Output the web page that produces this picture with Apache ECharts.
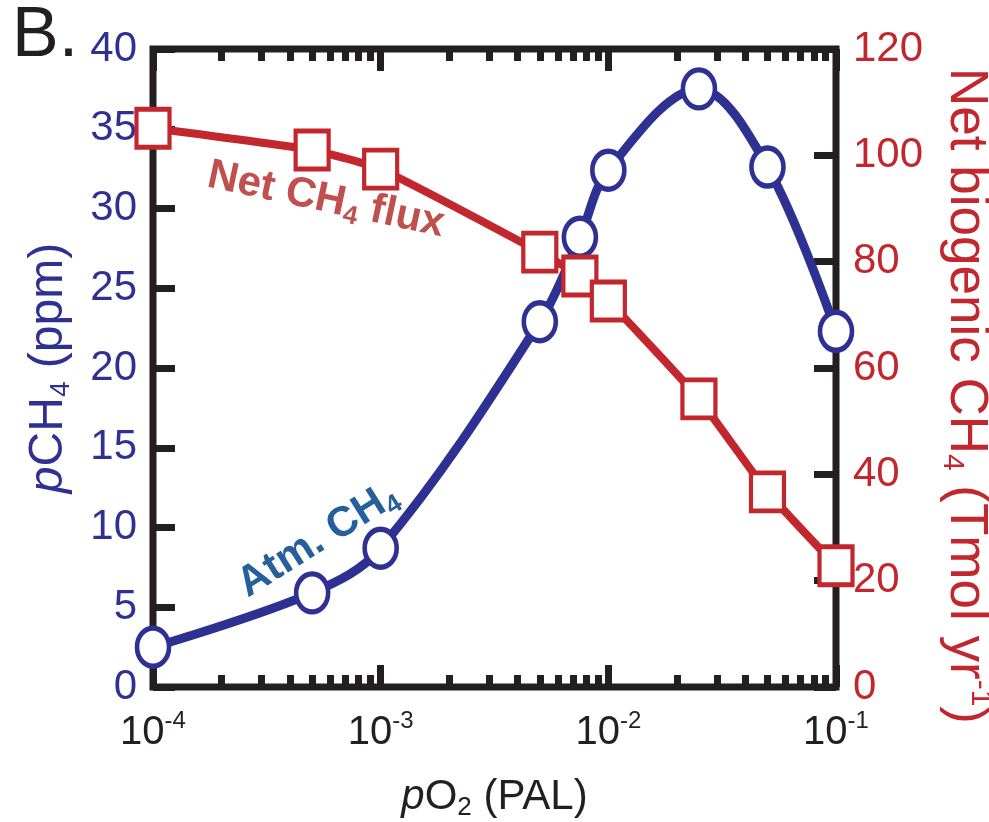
<!DOCTYPE html>
<html><head><meta charset="utf-8">
<script src="https://cdn.jsdelivr.net/npm/echarts@6/dist/echarts.min.js"></script>
<style>html,body{margin:0;padding:0;background:#fff}#c{width:989px;height:822px}</style>
</head><body><div id="c"></div>
<script>
// ---- data ----
const pO2 = [1e-4, 5e-4, 1e-3, 5e-3, 7.5e-3, 1e-2, 2.5e-2, 5e-2, 1e-1];
const pCH4 = [2.5, 5.9, 8.7, 22.9, 28.2, 32.4, 37.5, 32.6, 22.3];
const netFlux = [105.1, 101.0, 97.4, 81.8, 77.3, 72.6, 54.2, 36.7, 22.8];
const xTickValues = [1e-4, 1e-3, 1e-2, 1e-1];
const xTickExponents = ['-4', '-3', '-2', '-1'];
const minorMultipliers = [2, 3, 4, 5, 6, 7, 8, 9];
const decades = [-4, -3, -2];

const FONT = "'Liberation Sans', Arial, sans-serif";
const BLUE = '#2e3192', RED = '#c1272d', BLACK = '#231f20';

const minorTicks = [];
decades.forEach(d => minorMultipliers.forEach(m => minorTicks.push(d + Math.log10(m))));

const tickStyle = { color: BLACK, width: 7 };
function xLabel(v) {
  let i = xTickValues.findIndex(t => Math.abs(Math.log10(t) - Math.log10(v)) < 1e-6);
  if (i < 0) return '';
  return '{b|10}{s|' + xTickExponents[i] + '}';
}

const chart = echarts.init(document.getElementById('c'));
chart.setOption({
  backgroundColor: '#fff',
  animation: false,
  grid: { left: 153, right: 153, top: 49, bottom: 135, outerBoundsMode: 'none', containLabel: false,
          show: true, borderColor: BLACK, borderWidth: 7, backgroundColor: 'transparent' },
  xAxis: [
    { type: 'log', logBase: 10, min: 1e-4, max: 1e-1, position: 'bottom',
      axisLine: { show: false }, splitLine: { show: false },
      axisTick: { inside: true, length: 22, lineStyle: tickStyle },
      axisLabel: { margin: 22, formatter: xLabel, rich: {
        b: { fontFamily: FONT, fontSize: 40, lineHeight: 44, verticalAlign: 'bottom', color: BLACK },
        s: { fontFamily: FONT, fontSize: 24, lineHeight: 24, verticalAlign: 'top', color: BLACK } } },
      name: '{i|p}{n|O}{sub|2}{n| (PAL)}', nameLocation: 'middle', nameGap: 86,
      nameTextStyle: { rich: {
        i: { fontFamily: FONT, fontSize: 42, fontStyle: 'italic', lineHeight: 48, verticalAlign: 'middle', color: BLACK },
        n: { fontFamily: FONT, fontSize: 42, lineHeight: 48, verticalAlign: 'middle', color: BLACK },
        sub: { fontFamily: FONT, fontSize: 26, lineHeight: 26, verticalAlign: 'bottom', color: BLACK } } } },
    { type: 'value', min: -4, max: -1, position: 'bottom',
      axisLine: { show: false }, splitLine: { show: false }, axisLabel: { show: false },
      axisTick: { inside: true, length: 12, customValues: minorTicks, lineStyle: tickStyle } },
    { type: 'log', logBase: 10, min: 1e-4, max: 1e-1, position: 'top',
      axisLine: { show: false }, splitLine: { show: false }, axisLabel: { show: false },
      axisTick: { inside: true, length: 22, lineStyle: tickStyle } },
    { type: 'value', min: -4, max: -1, position: 'top',
      axisLine: { show: false }, splitLine: { show: false }, axisLabel: { show: false },
      axisTick: { inside: true, length: 12, customValues: minorTicks, lineStyle: tickStyle } }
  ],
  yAxis: [
    { type: 'value', min: 0, max: 40, interval: 5, position: 'left',
      axisLine: { show: false }, splitLine: { show: false },
      axisTick: { inside: true, length: 22, lineStyle: tickStyle },
      axisLabel: { margin: 16, fontFamily: FONT, fontSize: 42, color: BLUE },
      name: '{i|p}{n|CH}{sub|4}{n| (ppm)}', nameLocation: 'middle', nameRotate: 90, nameGap: 78,
      nameTextStyle: { rich: {
        i: { fontFamily: FONT, fontSize: 48, fontStyle: 'italic', lineHeight: 52, verticalAlign: 'middle', color: BLUE },
        n: { fontFamily: FONT, fontSize: 48, lineHeight: 52, verticalAlign: 'middle', color: BLUE },
        sub: { fontFamily: FONT, fontSize: 28, lineHeight: 28, verticalAlign: 'bottom', color: BLUE } } } },
    { type: 'value', min: 0, max: 120, interval: 20, position: 'right',
      axisLine: { show: false }, splitLine: { show: false },
      axisTick: { inside: true, length: 22, lineStyle: tickStyle },
      axisLabel: { margin: 17, fontFamily: FONT, fontSize: 42, color: RED },
      name: '{n|Net biogenic CH}{sub|4}{n| (Tmol yr}{sup|-1}{n|)}', nameLocation: 'middle', nameRotate: -90, nameGap: 101,
      nameTextStyle: { padding: [0, 0, 0, 56], rich: {
        n: { fontFamily: FONT, fontSize: 53, lineHeight: 58, verticalAlign: 'middle', color: RED },
        sub: { fontFamily: FONT, fontSize: 30, lineHeight: 30, verticalAlign: 'bottom', color: RED },
        sup: { fontFamily: FONT, fontSize: 30, lineHeight: 30, verticalAlign: 'top', color: RED } } } }
  ],
  series: [
    { name: 'Atm. CH4', type: 'line', xAxisIndex: 0, yAxisIndex: 0, smooth: 0.35, z: 3,
      data: pO2.map((x, i) => [x, pCH4[i]]),
      lineStyle: { color: BLUE, width: 9 },
      symbol: 'circle', symbolSize: [32, 38],
      itemStyle: { color: '#fff', borderColor: BLUE, borderWidth: 5 } },
    { name: 'Net CH4 flux', type: 'line', xAxisIndex: 0, yAxisIndex: 1, smooth: 0.15, z: 4,
      data: pO2.map((x, i) => [x, netFlux[i]]),
      lineStyle: { color: RED, width: 8 },
      symbol: 'rect', symbolSize: [33, 38],
      itemStyle: { color: '#fff', borderColor: RED, borderWidth: 4.5 } }
  ],
  graphic: [
    { type: 'text', left: 12, top: 2, style: { text: 'B.', fontFamily: FONT, fontSize: 70, fill: BLACK } },
    { type: 'text', x: 326, y: 200, rotation: -0.21, z: 10,
      style: { text: '{a|Net CH}{b|4}{a| flux}', align: 'center', verticalAlign: 'middle', rich: {
        a: { fontFamily: FONT, fontSize: 42, fontWeight: 'bold', fill: '#c0504d', lineHeight: 48, verticalAlign: 'middle' },
        b: { fontFamily: FONT, fontSize: 26, fontWeight: 'bold', fill: '#c0504d', lineHeight: 26, verticalAlign: 'bottom' } } } },
    { type: 'text', x: 318, y: 540, rotation: 0.56, z: 10,
      style: { text: '{a|Atm. CH}{b|4}', align: 'center', verticalAlign: 'middle', rich: {
        a: { fontFamily: FONT, fontSize: 42, fontWeight: 'bold', fill: '#26609a', lineHeight: 48, verticalAlign: 'middle' },
        b: { fontFamily: FONT, fontSize: 26, fontWeight: 'bold', fill: '#26609a', lineHeight: 26, verticalAlign: 'bottom' } } } }
  ]
});
</script></body></html>
